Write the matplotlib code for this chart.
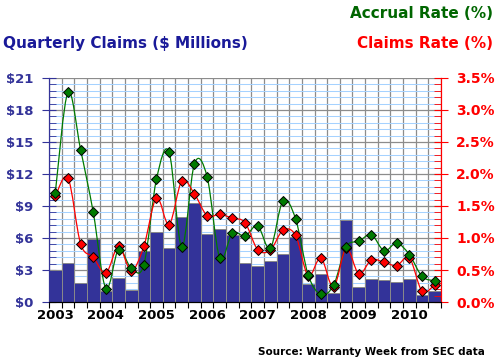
import matplotlib
matplotlib.use("Agg")
import matplotlib.pyplot as plt
from matplotlib.path import Path
from matplotlib.patches import PathPatch
import numpy as np

years = ['2003', '2004', '2005', '2006', '2007', '2008', '2009', '2010']

# quarterly claims, $ millions (2003 Q1 .. 2010 Q3)
claims = [3.04, 3.70, 1.82, 5.95, 1.03, 2.25, 1.16, 4.76,
          6.53, 5.03, 7.93, 9.27, 6.35, 6.82, 6.25, 3.62,
          3.34, 3.82, 4.47, 6.10, 1.66, 2.60, 0.80, 7.73,
          1.36, 2.12, 2.02, 1.83, 2.12, 0.62, 1.00]
# accrual rate, %
accrual_rate = [1.71, 3.28, 2.38, 1.40, 0.21, 0.82, 0.53, 0.58,
                1.92, 2.34, 0.86, 2.16, 1.96, 0.69, 1.08, 1.03,
                1.19, 0.84, 1.58, 1.30, 0.42, 0.12, 0.26, 0.86,
                0.95, 1.05, 0.80, 0.92, 0.74, 0.40, 0.33]
# claims rate, %
claims_rate = [1.65, 1.94, 0.91, 0.70, 0.45, 0.87, 0.49, 0.87,
               1.63, 1.21, 1.89, 1.69, 1.35, 1.37, 1.31, 1.24,
               0.82, 0.81, 1.12, 1.04, 0.41, 0.69, 0.23, 0.84,
               0.44, 0.66, 0.62, 0.57, 0.69, 0.17, 0.27]

NAVY = '#333399'
GREEN = '#007a00'
RED = '#ff0000'
FONT = 'DejaVu Sans'


def smooth_path(x, y):
    # catmull-rom curve through the points, as cubic bezier segments
    x = np.asarray(x, float)
    y = np.asarray(y, float)
    pts = np.column_stack([x, y])
    verts = [pts[0]]
    codes = [Path.MOVETO]
    n = len(pts)
    for i in range(n - 1):
        p0 = pts[max(i - 1, 0)]
        p1 = pts[i]
        p2 = pts[i + 1]
        p3 = pts[min(i + 2, n - 1)]
        c1 = p1 + (p2 - p0) / 6.0
        c2 = p2 - (p3 - p1) / 6.0
        verts += [c1, c2, p2]
        codes += [Path.CURVE4] * 3
    return Path(verts, codes)


x = np.arange(len(claims))

fig = plt.figure(figsize=(4.98, 3.64), dpi=100)
ax = fig.add_axes([49 / 498, 62 / 364, 392 / 498, 224 / 364])
ax2 = ax.twinx()

ax.set_axisbelow(True)
ax.bar(x, claims, width=1.0, color=NAVY, edgecolor='#8a8a8a', linewidth=0.7, zorder=2)

ax.set_xlim(-0.5, len(claims) - 0.5)
ax.set_ylim(0, 21)
ax2.set_ylim(0, 3.5)

# grid: light blue minor, gray major, gray verticals at every quarter
ax.set_yticks(np.arange(0, 22, 3))
ax.set_yticks(np.arange(0, 21.01, 0.6), minor=True)
ax.set_yticklabels(['$%d' % v for v in range(0, 22, 3)])
ax.yaxis.grid(True, which='minor', color='#a6d2ff', linewidth=0.75)
ax.yaxis.grid(True, which='major', color='#8c8c8c', linewidth=0.9)
ax.set_xticks(np.arange(-0.5, len(claims), 1.0))
ax.set_xticklabels([])
ax.xaxis.grid(True, which='major', color='#8c8c8c', linewidth=0.9)
ax.set_xticks(np.arange(0, len(claims), 4), minor=True)
ax.set_xticklabels(years, minor=True)
ax.tick_params(axis='x', which='major', direction='out', length=4, color='black')
ax.tick_params(axis='x', which='minor', length=0, pad=5, labelsize=9.5)
for lab in ax.get_xticklabels(minor=True):
    lab.set_fontweight('bold')
    lab.set_family(FONT)

ax.tick_params(axis='y', which='major', direction='inout', length=10, color=NAVY,
               labelcolor=NAVY, labelsize=9.5, pad=6)
ax.tick_params(axis='y', which='minor', direction='in', length=5, color=NAVY)
for lab in ax.get_yticklabels():
    lab.set_fontweight('bold')

ax2.set_yticks(np.arange(0, 3.51, 0.5))
ax2.set_yticks(np.arange(0, 3.51, 0.1), minor=True)
ax2.set_yticklabels(['%.1f%%' % v for v in np.arange(0, 3.51, 0.5)])
ax2.tick_params(axis='y', which='major', direction='inout', length=10, color=RED,
                labelcolor=RED, labelsize=10, pad=6)
ax2.tick_params(axis='y', which='minor', direction='in', length=5, color=RED)
for lab in ax2.get_yticklabels():
    lab.set_fontweight('bold')

for a in (ax, ax2):
    a.spines['top'].set_visible(False)
    a.spines['left'].set_color(NAVY)
    a.spines['right'].set_color(RED)
    a.spines['bottom'].set_color('black')

# smoothed rate lines with diamond markers
ax2.add_patch(PathPatch(smooth_path(x, accrual_rate), fill=False, edgecolor=GREEN,
                        linewidth=0.9, zorder=3))
ax2.add_patch(PathPatch(smooth_path(x, claims_rate), fill=False, edgecolor=RED,
                        linewidth=0.9, zorder=3))
ax2.plot(x, claims_rate, linestyle='none', marker='D', markersize=4.6,
         markerfacecolor=RED, markeredgecolor='black', markeredgewidth=0.7, zorder=4)
ax2.plot(x, accrual_rate, linestyle='none', marker='D', markersize=4.6,
         markerfacecolor=GREEN, markeredgecolor='black', markeredgewidth=0.7, zorder=5)

fig.text(3 / 498, 1 - 43.5 / 364, 'Quarterly Claims ($ Millions)', color='#1a1a99',
         fontsize=11, fontweight='bold', ha='left', va='center', family=FONT)
fig.text(493 / 498, 1 - 13 / 364, 'Accrual Rate (%)', color='#006600',
         fontsize=11, fontweight='bold', ha='right', va='center', family=FONT)
fig.text(493 / 498, 1 - 43.5 / 364, 'Claims Rate (%)', color=RED,
         fontsize=11, fontweight='bold', ha='right', va='center', family=FONT)
fig.text(485 / 498, 1 - 352 / 364, 'Source: Warranty Week from SEC data', color='black',
         fontsize=7.5, fontweight='bold', ha='right', va='center', family=FONT)

fig.savefig('out.png', dpi=100)
